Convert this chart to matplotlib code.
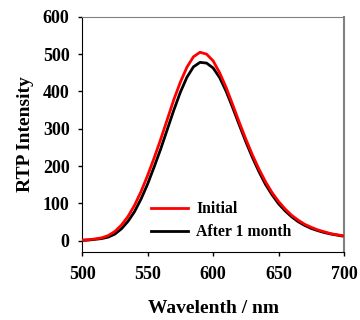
import numpy as np
import matplotlib
matplotlib.use("Agg")
import matplotlib.pyplot as plt

plt.rcParams['font.family'] = ['Liberation Serif', 'DejaVu Serif']
plt.rcParams['font.weight'] = 'bold'

wavelength = np.arange(500, 701, 5)
initial = [2, 3, 5, 8, 14, 25, 42, 65, 95, 132, 175, 222, 272, 325, 378, 425,
           465, 493, 505, 500, 482, 450, 410, 364, 317, 272, 230, 192, 158,
           129, 105, 85, 68, 55, 44, 36, 29, 24, 19, 16, 13]
after_1_month = [1, 2, 4, 6, 10, 18, 32, 52, 78, 112, 152, 198, 246, 298, 350,
                 398, 438, 466, 478, 476, 463, 437, 400, 356, 310, 265, 223,
                 185, 151, 123, 99, 80, 64, 51, 41, 33, 27, 22, 18, 15, 12]

fig = plt.figure(figsize=(3.6, 3.2), dpi=100)
ax = fig.add_axes([0.228, 0.2125, 0.728, 0.735])

ax.plot(wavelength, initial, color='#ff0000', lw=2, label='Initial', zorder=3)
ax.plot(wavelength, after_1_month, color='black', lw=2, label='After 1 month', zorder=2)

ax.set_xlim(500, 700)
ax.set_ylim(-30, 600)
ax.set_xticks([500, 550, 600, 650, 700])
ax.set_yticks([0, 100, 200, 300, 400, 500, 600])
ax.tick_params(direction='out', length=3, width=1, labelsize=13)
ax.tick_params(axis='x', pad=7)
ax.tick_params(axis='y', pad=6)
for lab in ax.get_xticklabels() + ax.get_yticklabels():
    lab.set_fontweight('bold')

ax.spines['top'].set_color('#808080')
ax.spines['right'].set_color('#808080')
ax.spines['right'].set_linewidth(1.5)

ax.set_xlabel('Wavelenth / nm', fontsize=14, fontweight='bold', labelpad=12)
ax.set_ylabel('RTP Intensity', fontsize=14, fontweight='bold', labelpad=6)

ax.legend(loc='lower center', bbox_to_anchor=(0.53, -0.01), frameon=False,
          prop={'size': 11.3, 'weight': 'bold'}, handlelength=2.4,
          handletextpad=0.5, labelspacing=0.45)

fig.savefig('out.png', dpi=100)
